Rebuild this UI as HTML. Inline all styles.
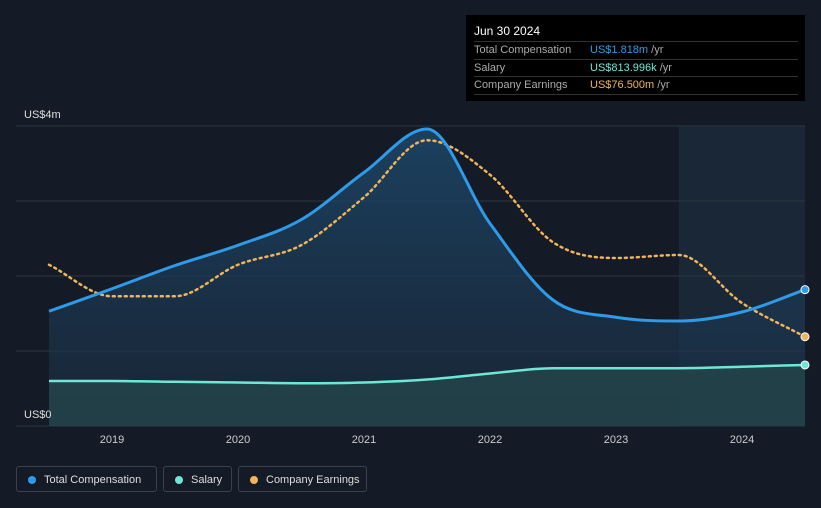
<!DOCTYPE html>
<html><head><meta charset="utf-8"><style>
body{margin:0;background:#151b26;width:821px;height:508px;overflow:hidden;font-family:"Liberation Sans",sans-serif}
#tip{position:absolute;left:466px;top:15px;width:339px;height:86px;background:#000;color:#fff;font-size:12px}
#tip .h{position:absolute;left:8px;top:9px}
.r{position:absolute;left:8px;width:324px;border-top:1px solid #333;height:17px;line-height:17px;color:#aaa;font-size:11px}
.r span{position:absolute;left:116px}
.leg{position:absolute;top:466px;height:26px;border:1px solid #3a414c;border-radius:3px;color:#ddd;font-size:11px;line-height:26px;padding-left:27px;box-sizing:border-box}
.leg i{position:absolute;left:11px;top:9px;width:8px;height:8px;border-radius:50%}
</style></head><body>
<svg id="c" width="821" height="508" style="position:absolute;left:0;top:0"></svg>
<div id="tip"><div class="h">Jun 30 2024</div>
<div class="r" style="top:26px">Total Compensation<span style="color:#2f9be8">US$1.818m <b style="font-weight:normal;color:#aaa">/yr</b></span></div>
<div class="r" style="top:44px">Salary<span style="color:#6ee7d6">US$813.996k <b style="font-weight:normal;color:#aaa">/yr</b></span></div>
<div class="r" style="top:61px;border-bottom:1px solid #333">Company Earnings<span style="color:#f0b45a">US$76.500m <b style="font-weight:normal;color:#aaa">/yr</b></span></div></div>
<div class="leg" style="left:16px;width:141px"><i style="background:#2f9be8"></i>Total Compensation</div>
<div class="leg" style="left:163px;width:69px"><i style="background:#6ee7d6"></i>Salary</div>
<div class="leg" style="left:238px;width:129px"><i style="background:#f0b45a"></i>Company Earnings</div>
<script>
const years=[2018.5,2019,2019.5,2020,2020.5,2021,2021.5,2022,2022.5,2023,2023.5,2024,2024.5];
const totalComp=[1.53,1.83,2.14,2.41,2.75,3.38,3.96,2.7,1.68,1.45,1.4,1.52,1.818];
const salary=[0.6,0.6,0.59,0.58,0.57,0.58,0.62,0.7,0.77,0.77,0.77,0.79,0.814];
const earnings=[2.15,1.73,1.73,2.15,2.41,3.05,3.81,3.35,2.45,2.24,2.28,1.64,1.19];
const xTicks=[2019,2020,2021,2022,2023,2024];
const yTicks=[0,1,2,3,4];
const X=v=>112+(v-2019)*126, Y=v=>426-v*75;
const s=document.getElementById('c'),NS='http://www.w3.org/2000/svg';
function el(t,a,p){const e=document.createElementNS(NS,t);for(const k in a)e.setAttribute(k,a[k]);(p||s).appendChild(e);return e}
s.innerHTML='<defs><linearGradient id="g" x1="0" y1="0" x2="0" y2="1"><stop offset="0" stop-color="#1d4a6e" stop-opacity="0.8"/><stop offset="1" stop-color="#1a2c40" stop-opacity="0.6"/></linearGradient></defs>';
const fc=el('rect',{x:X(2023.5),y:Y(4),width:805-X(2023.5),height:300,fill:'#1a2736'});

yTicks.forEach(t=>{const l=el('line',{x1:16,x2:805,y1:Y(t),y2:Y(t),stroke:'#2c3440'});});
function path(v){
  const p=years.map((y,i)=>[X(y),Y(v[i])]),n=p.length,d=[],m=[];
  for(let i=0;i<n-1;i++)d.push((p[i+1][1]-p[i][1])/(p[i+1][0]-p[i][0]));
  for(let i=0;i<n;i++){if(i==0)m.push(d[0]);else if(i==n-1)m.push(d[n-2]);else m.push(d[i-1]*d[i]<=0?0:(d[i-1]+d[i])/2);}
  for(let i=0;i<n-1;i++){if(d[i]==0){m[i]=m[i+1]=0;continue;}const a=m[i]/d[i],b=m[i+1]/d[i],h=a*a+b*b;if(h>9){const t=3/Math.sqrt(h);m[i]=t*a*d[i];m[i+1]=t*b*d[i];}}
  let s='M'+p[0];
  for(let i=0;i<n-1;i++){const h=(p[i+1][0]-p[i][0])/3;s+=` C${p[i][0]+h},${p[i][1]+m[i]*h} ${p[i+1][0]-h},${p[i+1][1]-m[i+1]*h} ${p[i+1][0]},${p[i+1][1]}`;}
  return s}
const base=` L${X(2024.5)},${Y(0)} L${X(2018.5)},${Y(0)} Z`;
let a=el('path',{d:path(totalComp)+base,fill:'url(#g)'});
a=el('path',{d:path(salary)+base,fill:'#24444a',opacity:0.85});
let l=el('path',{d:path(earnings),fill:'none',stroke:'#f0b45a','stroke-width':2.5,'stroke-dasharray':'2 4','stroke-linecap':'round'});
l=el('path',{d:path(salary),fill:'none',stroke:'#6ee7d6','stroke-width':2.5});
l=el('path',{d:path(totalComp),fill:'none',stroke:'#2f9be8','stroke-width':3});
[[totalComp,'#2f9be8'],[salary,'#6ee7d6'],[earnings,'#f0b45a']].forEach(([v,c])=>{const d=el('circle',{cx:X(2024.5),cy:Y(v[v.length-1]),r:4,fill:c,stroke:'#fff','stroke-width':1});});
xTicks.forEach(t=>{const e=el('text',{x:X(t),y:443,fill:'#ccc','font-size':11,'text-anchor':'middle'});e.textContent=t;});
[[4,'US$4m',118],[0,'US$0',418]].forEach(([v,t,y])=>{const e=el('text',{x:24,y:y,fill:'#ddd','font-size':11});e.textContent=t;});
</script></body></html>
